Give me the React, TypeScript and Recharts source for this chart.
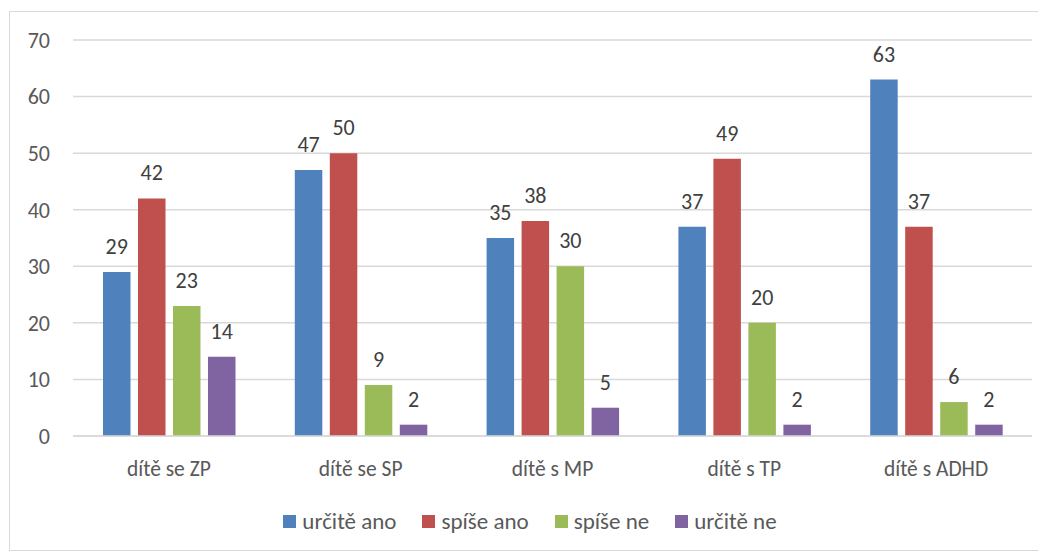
import React from "react";
import { BarChart, Bar, XAxis, YAxis, CartesianGrid, LabelList, Legend } from "recharts";

const categories = ["dítě se ZP", "dítě se SP", "dítě s MP", "dítě s TP", "dítě s ADHD"];
const urciteAno = [29, 47, 35, 37, 63];
const spiseAno = [42, 50, 38, 49, 37];
const spiseNe = [23, 9, 30, 20, 6];
const urciteNe = [14, 2, 5, 2, 2];
const yTicks = [0, 10, 20, 30, 40, 50, 60, 70];

const seriesNames = ["určitě ano", "spíše ano", "spíše ne", "určitě ne"];
const seriesKeys = ["a", "b", "c", "d"];
const colors = ["#4F81BD", "#C0504D", "#9BBB59", "#8064A2"];

const data = categories.map((c, i) => ({
  name: c,
  a: urciteAno[i],
  b: spiseAno[i],
  c: spiseNe[i],
  d: urciteNe[i],
}));

const FONT = "Carlito, Lato, 'Open Sans', sans-serif";
const TEXT = "#595959";

const LegendContent = () => (
  <div
    style={{
      display: "flex",
      justifyContent: "center",
      alignItems: "center",
      paddingLeft: 18,
      height: 30,
      fontFamily: FONT,
      fontSize: 23,
      color: TEXT,
    }}
  >
    {seriesNames.map((n, i) => (
      <div key={n} style={{ display: "flex", alignItems: "center", marginRight: i < 3 ? 26 : 0 }}>
        <span style={{ display: "inline-block", width: 13, height: 13, background: colors[i], marginRight: 6 }} />
        <span>{n}</span>
      </div>
    ))}
  </div>
);

export default function App() {
  return (
    <div
      style={{
        width: 1030,
        height: 538,
        border: "1px solid #d9d9d9",
        marginLeft: 1,
        marginTop: 3,
        background: "#fff",
      }}
    >
      <BarChart
        width={1030}
        height={538}
        data={data}
        margin={{ top: 28, right: 8, bottom: 14, left: 0 }}
        barGap={7.5}
        barSize={27.5}
      >
        <CartesianGrid vertical={false} stroke="#d9d9d9" strokeWidth={1.5} />
        <XAxis
          dataKey="name"
          height={70}
          tickLine={false}
          tickSize={0}
          tickMargin={25}
          axisLine={{ stroke: "#d9d9d9", strokeWidth: 1.5 }}
          tick={{ fill: TEXT, fontSize: 21.5, fontFamily: FONT }}
        />
        <YAxis
          width={63}
          domain={[0, 70]}
          ticks={yTicks}
          axisLine={false}
          tickLine={false}
          tickSize={0}
          tickMargin={23}
          tick={{ fill: TEXT, fontSize: 22, fontFamily: FONT }}
        />
        <Legend verticalAlign="bottom" height={30} content={<LegendContent />} />
        {seriesKeys.map((k, i) => (
          <Bar key={k} dataKey={k} name={seriesNames[i]} fill={colors[i]} isAnimationActive={false}>
            <LabelList
              dataKey={k}
              position="top"
              offset={18}
              fill="#404040"
              fontSize={22}
              fontFamily={FONT}
            />
          </Bar>
        ))}
      </BarChart>
    </div>
  );
}
